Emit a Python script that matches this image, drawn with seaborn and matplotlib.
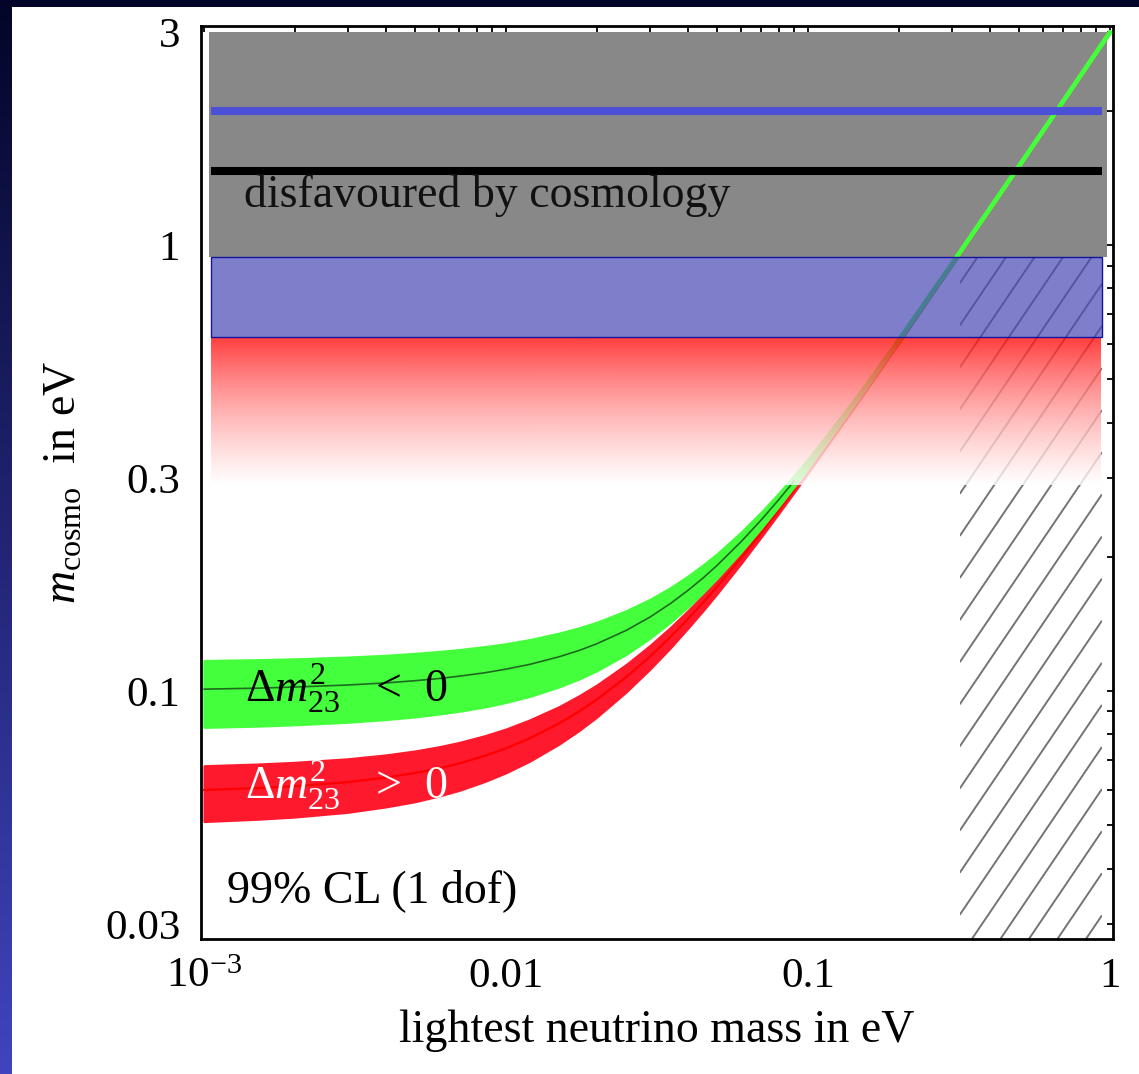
import numpy as np
import pandas as pd
import matplotlib
matplotlib.use("Agg")
import matplotlib.pyplot as plt
import seaborn as sns
from matplotlib.patches import Rectangle
from matplotlib.collections import LineCollection
from matplotlib.ticker import FixedLocator, FixedFormatter, NullFormatter, LogLocator

# lightest neutrino mass (eV)
m_lightest = [0.001, 0.0015, 0.002, 0.003, 0.004, 0.005, 0.006, 0.007, 0.0085, 0.01,
              0.012, 0.015, 0.0175, 0.02, 0.025, 0.03, 0.035, 0.04, 0.045, 0.05,
              0.06, 0.07, 0.08, 0.09, 0.1, 0.15, 0.2, 0.3, 0.5, 0.7, 1.0]

# inverted ordering (dm^2_23 < 0): best fit and 99% CL band of m_cosmo (eV)
inv_center = [0.1010, 0.1015, 0.1021, 0.1032, 0.1043, 0.1055, 0.1067, 0.1080, 0.1099, 0.1120,
              0.1148, 0.1194, 0.1234, 0.1277, 0.1368, 0.1466, 0.1571, 0.1681, 0.1795, 0.1914,
              0.2162, 0.2420, 0.2687, 0.2959, 0.3236, 0.4662, 0.6123, 0.9083, 1.505, 2.104, 3.003]
inv_upper = [0.1170, 0.1175, 0.1180, 0.1191, 0.1202, 0.1214, 0.1226, 0.1238, 0.1257, 0.1276,
             0.1304, 0.1348, 0.1386, 0.1426, 0.1513, 0.1605, 0.1704, 0.1809, 0.1918, 0.2031,
             0.2269, 0.2518, 0.2776, 0.3041, 0.3312, 0.4716, 0.6165, 0.9111, 1.507, 2.105, 3.003]
inv_lower = [0.0830, 0.0835, 0.0841, 0.0852, 0.0864, 0.0876, 0.0889, 0.0902, 0.0922, 0.0944,
             0.0974, 0.1023, 0.1066, 0.1112, 0.1210, 0.1316, 0.1428, 0.1545, 0.1667, 0.1793,
             0.2053, 0.2322, 0.2598, 0.2878, 0.3161, 0.4610, 0.6083, 0.9056, 1.503, 2.102, 3.002]

# normal ordering (dm^2_23 > 0)
nor_center = [0.0600, 0.0606, 0.0612, 0.0625, 0.0640, 0.0655, 0.0671, 0.0688, 0.0716, 0.0744,
              0.0784, 0.0847, 0.0901, 0.0958, 0.1075, 0.1196, 0.1322, 0.1450, 0.1581, 0.1715,
              0.1988, 0.2266, 0.2548, 0.2834, 0.3122, 0.4584, 0.6064, 0.9043, 1.503, 2.102, 3.001]
nor_upper = [0.0680, 0.0686, 0.0692, 0.0705, 0.0719, 0.0734, 0.0750, 0.0767, 0.0794, 0.0822,
             0.0862, 0.0923, 0.0977, 0.1032, 0.1147, 0.1266, 0.1388, 0.1514, 0.1643, 0.1773,
             0.2041, 0.2315, 0.2593, 0.2875, 0.3160, 0.4611, 0.6084, 0.9057, 1.503, 2.103, 3.002]
nor_lower = [0.0510, 0.0516, 0.0522, 0.0535, 0.0550, 0.0565, 0.0582, 0.0599, 0.0627, 0.0656,
             0.0697, 0.0761, 0.0817, 0.0875, 0.0996, 0.1121, 0.1250, 0.1383, 0.1517, 0.1654,
             0.1933, 0.2217, 0.2504, 0.2793, 0.3085, 0.4558, 0.6044, 0.9029, 1.502, 2.101, 3.001]

# cosmological bounds on m_cosmo (eV)
bound_x = [1.055e-3, 0.94]
disfavoured_x = [1.04e-3, 0.98]
disfavoured_y = [0.94, 3.0]
blue_band_y = [0.623, 0.94]
red_fade_y = [0.29, 0.623]
blue_line_level = 2.0
black_line_level = 1.47
hatch_x = [0.318, 0.94]

x_ticks = [1e-3, 1e-2, 1e-1, 1.0]
x_tick_labels = [r"$\mathregular{10^{-3}}$", "0.01", "0.1", "1"]
y_ticks = [0.03, 0.1, 0.3, 1.0, 3.0]
y_tick_labels = ["0.03", "0.1", "0.3", "1", "3"]

sns.set_theme(style="white")
plt.rcParams["font.family"] = ["Liberation Serif", "DejaVu Serif"]
plt.rcParams["mathtext.fontset"] = "custom"
plt.rcParams["mathtext.rm"] = "Liberation Serif"
plt.rcParams["mathtext.it"] = "Liberation Serif:italic"
plt.rcParams["mathtext.bf"] = "Liberation Serif:bold"
plt.rcParams["mathtext.fallback"] = "stix"

fig = plt.figure(figsize=(11.39, 10.74), dpi=100)

# slide backdrop: navy gradient frame with a white page
bg = fig.add_axes([0, 0, 1, 1], zorder=-10)
shade = np.linspace(0, 1, 256)[:, None, None]
top_col = np.array([3, 5, 40]) / 255
bot_col = np.array([64, 68, 190]) / 255
bg.imshow(top_col + (bot_col - top_col) * shade, aspect="auto", extent=[0, 1, 0, 1])
bg.add_patch(Rectangle((12 / 1139, 0), 1, 1 - 7 / 1074, transform=bg.transAxes,
                       facecolor="white", edgecolor="none"))
bg.set_xlim(0, 1)
bg.set_ylim(0, 1)
bg.set_axis_off()

ax = fig.add_axes([201 / 1139, 135 / 1074, 912 / 1139, 913 / 1074])
ax.set_xscale("log")
ax.set_yscale("log")
ax.set_facecolor("white")
ax.grid(False)
y_bottom, y_top = 0.0278, 3.10

# region excluded by cosmology
ax.fill_between(disfavoured_x, disfavoured_y[0], disfavoured_y[1],
                color="#888888", lw=0, zorder=1)

# hatched region
clip = Rectangle((hatch_x[0], y_bottom), hatch_x[1] - hatch_x[0], blue_band_y[1] - y_bottom,
                 transform=ax.transData, facecolor="none", edgecolor="none")
ax.add_patch(clip)
xe = np.array(hatch_x)
slopes = 0.0797 * 10 ** (0.0944 * np.arange(-6, 17))
hatch = LineCollection([np.column_stack([xe, s * xe]) for s in slopes],
                       colors="#747474", linewidths=1.4, zorder=1.5)
ax.add_collection(hatch, autolim=False)
hatch.set_clip_path(clip)

df = pd.DataFrame({"m": m_lightest, "inv": inv_center, "nor": nor_center})

# normal ordering band
ax.fill_between(m_lightest, nor_lower, nor_upper, facecolor="#FF192D",
                edgecolor="#FF192D", lw=1.6, zorder=2)
sns.lineplot(data=df[df["nor"] < 0.3], x="m", y="nor", color="#FF0000", lw=1.6,
             ax=ax, zorder=2.5)
sns.lineplot(data=df[df["nor"] > 0.28], x="m", y="nor", color="#FF192D", lw=3.0,
             ax=ax, zorder=2.2)

# inverted ordering band
ax.fill_between(m_lightest, inv_lower, inv_upper, facecolor="#44FF3C",
                edgecolor="#44FF3C", lw=1.8, zorder=3)
sns.lineplot(data=df[df["inv"] > 0.28], x="m", y="inv", color="#44FF3C", lw=3.4,
             ax=ax, zorder=3.2)
sns.lineplot(data=df[df["inv"] < 0.3], x="m", y="inv", color="#1E6A1E", lw=1.2,
             ax=ax, zorder=3.5)

# translucent blue band
ax.fill_between(bound_x, blue_band_y[0], blue_band_y[1], color="#4848B6",
                alpha=0.7, lw=0, zorder=4)
ax.add_patch(Rectangle((bound_x[0], blue_band_y[0]), bound_x[1] - bound_x[0],
                       blue_band_y[1] - blue_band_y[0], fill=False,
                       edgecolor="#1414A0", lw=1.0, zorder=4.1))

# red band fading to white
fade = np.linspace(0, 1, 256)[:, None]
rgba = np.zeros((256, 1, 4))
rgba[..., 0] = 1.0
rgba[..., 1] = (12 + 243 * fade) / 255
rgba[..., 2] = (12 + 243 * fade) / 255
rgba[..., 3] = 0.8
ax.imshow(rgba, extent=[bound_x[0], bound_x[1], red_fade_y[0], red_fade_y[1]],
          aspect="auto", interpolation="bilinear", zorder=4)

# bounds as thick lines
ax.plot(bound_x, [blue_line_level] * 2, color="#4B50D7", lw=5.8,
        solid_capstyle="butt", zorder=5)
ax.plot(bound_x, [black_line_level] * 2, color="black", lw=5.8,
        solid_capstyle="butt", zorder=5)

ax.text(1.357e-3, 1.217, "disfavoured by cosmology", fontsize=33,
        ha="left", va="baseline", color="#111111", zorder=6)
ax.text(1.37e-3, 0.0945, r"$\Delta m^{\mathit{2}}_{\mathit{23}}$   <  0", fontsize=33,
        ha="left", va="baseline", color="black", zorder=6)
ax.text(1.37e-3, 0.0570, r"$\Delta m^{\mathit{2}}_{\mathit{23}}$   >  0", fontsize=33,
        ha="left", va="baseline", color="white", zorder=6)
ax.text(1.19e-3, 0.0337, "99% CL (1 dof)", fontsize=33,
        ha="left", va="baseline", color="black", zorder=6)

ax.set_xlim(0.977e-3, 1.023)
ax.set_ylim(y_bottom, y_top)

ax.xaxis.set_major_locator(FixedLocator(x_ticks))
ax.xaxis.set_major_formatter(FixedFormatter(x_tick_labels))
ax.yaxis.set_major_locator(FixedLocator(y_ticks))
ax.yaxis.set_major_formatter(FixedFormatter(y_tick_labels))
for axis in (ax.xaxis, ax.yaxis):
    axis.set_minor_locator(LogLocator(base=10, subs=np.arange(2, 10)))
    axis.set_minor_formatter(NullFormatter())

ax.tick_params(which="both", direction="in", top=True, right=True, length=4.5,
               width=1.3, color="black", labelsize=31, labelcolor="black")
ax.tick_params(axis="y", which="both", pad=15)
ax.tick_params(axis="x", which="both", pad=13)
for sp in ax.spines.values():
    sp.set_visible(True)
    sp.set_color("black")
    sp.set_linewidth(2.0)

ax.set_xlabel("lightest neutrino mass in eV", fontsize=33, color="black", labelpad=10)
ax.set_ylabel(r"$m_{\mathrm{cosmo}}$  in eV", fontsize=33, color="black", labelpad=14)

fig.savefig("out.png", dpi=100)
